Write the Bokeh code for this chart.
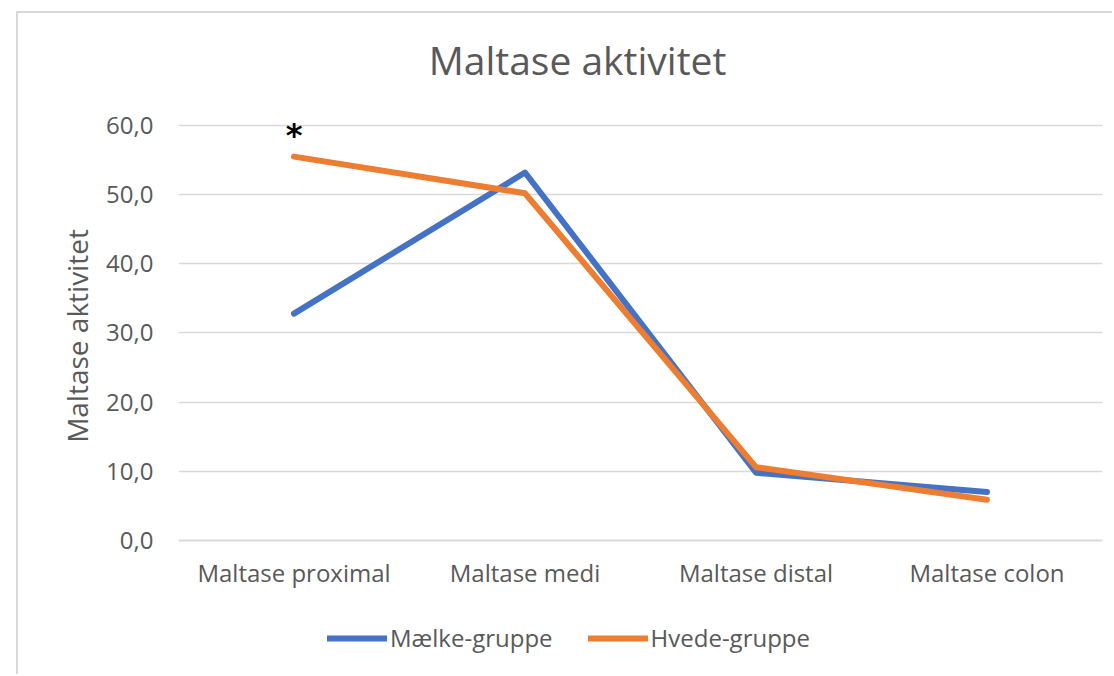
from bokeh.plotting import figure
from bokeh.models import (ColumnDataSource, FactorRange, Range1d, FixedTicker, Label,
                          Legend, LegendItem)
from bokeh.core.properties import value
from bokeh.embed import file_html
from bokeh.resources import INLINE

title_text = "Maltase aktivitet"
y_title = "Maltase aktivitet"
categories = ["Maltase proximal", "Maltase medi", "Maltase distal", "Maltase colon"]
maelk = [32.8, 53.2, 9.8, 7.0]
hvede = [55.5, 50.2, 10.6, 5.9]
series_names = ["Mælke-gruppe", "Hvede-gruppe"]
y_ticks = [0, 10, 20, 30, 40, 50, 60]
y_tick_labels = ["0,0", "10,0", "20,0", "30,0", "40,0", "50,0", "60,0"]
star_category = "Maltase proximal"
star_value = 55.5

FONT = "Open Sans"
TXT = "#595959"
BLUE = "#4472C4"
ORANGE = "#ED7D31"
GRID = "#D9D9D9"

W, H = 1096, 663
# frame spans the whole chart height so that title/legend are drawn inside it
p = figure(width=W, height=H, x_range=FactorRange(*categories, range_padding=0),
           y_range=Range1d(-17.06, 76.19), output_backend="svg", toolbar_location=None,
           min_border_left=160, min_border_right=12, min_border_top=0,
           min_border_bottom=18)
p.styles = {"margin-left": "16px", "margin-top": "11px",
            "border-left": "2px solid #D9D9D9", "border-top": "2px solid #D9D9D9"}
p.outline_line_color = None
p.background_fill_color = "white"
p.border_fill_color = "white"

src = ColumnDataSource(dict(cat=categories, m=maelk, h=hvede))
r1 = p.line("cat", "m", source=src, line_color=BLUE, line_width=6,
            line_cap="round", line_join="round")
r2 = p.line("cat", "h", source=src, line_color=ORANGE, line_width=6,
            line_cap="round", line_join="round")

# asterisk
p.text(x=[star_category], y=[star_value], text=["*"], text_font=value("DejaVu Sans"),
       text_font_style="bold", text_font_size="32px", text_color="black",
       text_align="center", text_baseline="middle", y_offset=-22)

# axes
p.xgrid.grid_line_color = None
p.ygrid.grid_line_color = GRID
p.ygrid.grid_line_width = 1.5
p.yaxis.ticker = FixedTicker(ticks=y_ticks)
p.yaxis.major_label_overrides = {t: l for t, l in zip(y_ticks, y_tick_labels)}
for ax in (p.xaxis[0], p.yaxis[0]):
    ax.major_tick_line_color = None
    ax.minor_tick_line_color = None
    ax.major_label_text_font = FONT
    ax.major_label_text_font_size = "24px"
    ax.major_label_text_color = TXT
p.yaxis.axis_line_color = None
p.yaxis.major_label_standoff = 19
p.xaxis.fixed_location = 0
p.xaxis.axis_line_color = GRID
p.xaxis.axis_line_width = 1.5
p.xaxis.major_label_standoff = 10
p.yaxis.axis_label = y_title
p.yaxis.axis_label_text_font = FONT
p.yaxis.axis_label_text_font_size = "28px"
p.yaxis.axis_label_text_font_style = "normal"
p.yaxis.axis_label_text_color = TXT
p.yaxis.axis_label_standoff = 7

# title
p.add_layout(Label(x=557, y=44, x_units="canvas", y_units="canvas", text=title_text,
                   text_font=FONT, text_font_size="39px", text_color=TXT,
                   text_align="center", text_baseline="middle"))

legend = Legend(items=[LegendItem(label=series_names[0], renderers=[r1]),
                       LegendItem(label=series_names[1], renderers=[r2])],
                orientation="horizontal", location=(149, 4),
                glyph_width=60, glyph_height=20, label_standoff=3, spacing=35,
                padding=0, margin=0, border_line_color=None, background_fill_alpha=0,
                label_text_font=FONT, label_text_font_size="24px", label_text_color=TXT)
p.add_layout(legend, "center")

open("out.html", "w").write(file_html(p, INLINE))
